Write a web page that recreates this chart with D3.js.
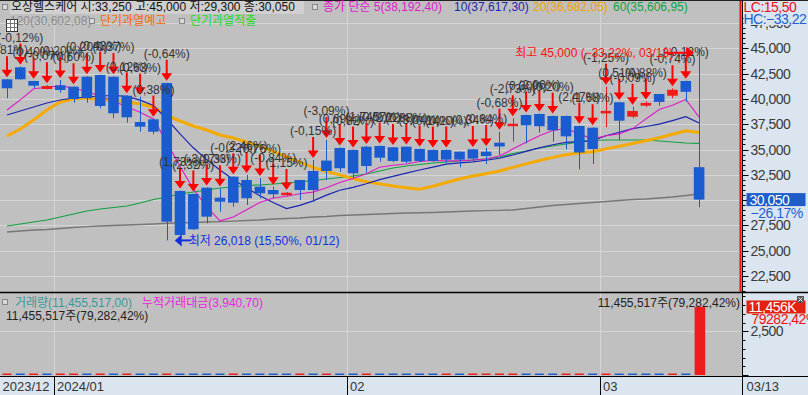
<!DOCTYPE html>
<html><head><meta charset="utf-8">
<script src="https://cdn.jsdelivr.net/npm/d3@7"></script>
<style>
html,body{margin:0;padding:0;background:#c0c0c0;overflow:hidden;}
svg{display:block;font-family:"Liberation Sans","Noto Sans CJK KR",sans-serif;}
.ax{letter-spacing:-0.5px;}
</style></head><body>
<svg id="c" width="808" height="395"></svg>
<script>
// ---------------- DATA ----------------
const dates = ["2023/12/22","2023/12/26","2023/12/27","2023/12/28",
"2024/01/02","2024/01/03","2024/01/04","2024/01/05","2024/01/08","2024/01/09","2024/01/10","2024/01/11","2024/01/12",
"2024/01/15","2024/01/16","2024/01/17","2024/01/18","2024/01/19","2024/01/22","2024/01/23","2024/01/24","2024/01/25","2024/01/26",
"2024/01/29","2024/01/30","2024/01/31",
"2024/02/01","2024/02/02","2024/02/05","2024/02/06","2024/02/07","2024/02/08","2024/02/13","2024/02/14","2024/02/15","2024/02/16",
"2024/02/19","2024/02/20","2024/02/21","2024/02/22","2024/02/23","2024/02/26","2024/02/27","2024/02/28","2024/02/29",
"2024/03/04","2024/03/05","2024/03/06","2024/03/07","2024/03/08","2024/03/11","2024/03/12","2024/03/13"];
const opens = [41937,43123,41769,40979,41344,41206,42194,42362,42194,40317,37718,37985,41572,30901,30605,31227,30239,32314,31988,31326,30997,30506,31988,32877,33907,35150,34950,35278,35347,35218,35278,35050,34950,34950,34785,35015,34785,35673,37400,38410,38509,38311,38311,37323,37155,38578,39665,38242,39329,40485,40317,41769,33250];
const highs = [41950,43200,41790,41350,41868,41250,42250,42400,42250,40350,40218,38050,41600,30950,30650,31250,31168,32350,32482,32186,31326,30800,32000,33965,35940,35200,35000,35350,35400,35250,35300,35100,35000,35000,34800,35050,35150,36760,38084,38450,38550,38350,38350,37350,37200,41206,39700,39230,39750,40500,41048,41800,45000];
const lows = [40060,41900,41048,40950,40613,39625,39625,39072,38084,37649,36760,36503,26018,26400,27050,27710,28856,29350,29518,30180,30180,30400,30009,29800,31988,32780,32190,32710,33795,33737,33638,33737,33800,33700,33243,33800,33560,34457,35772,35614,36661,35772,35021,33045,33569,37194,35940,38100,39200,39329,40060,39724,29300];
const closes = [41048,41937,41305,41275,40880,39991,40060,39299,38578,38183,37254,36760,27868,26554,27117,28362,29844,29745,30180,30674,30575,30703,30997,30997,32877,33150,32650,33370,34190,33865,33796,33865,33865,34000,34000,34100,34350,35300,37450,37400,37300,36900,36300,34700,35050,38805,37847,38805,39600,39700,40900,40700,30050];
const ma5 = [38904,39900,41000,41150,41289,41078,40702,40301,39762,39222,38675,38015,35729,33324,31111,29332,27949,28324,29050,29761,30204,30375,30626,30789,31230,31745,32134,32609,33247,33445,33574,33817,33916,33878,33905,33966,34063,34350,35040,35720,36360,36870,37070,36520,36050,36351,36540,37041,38021,38951,39370,39941,38192.40];
const ma10 = [38410,38806,39200,39596,39892,40090,40190,40287,40337,40256,39876,39359,38015,36543,35166,34004,32982,32027,31187,30436,29768,29162,29475,29919,30495,30974,31255,31617,32018,32337,32660,32976,33263,33563,33675,33770,33940,34133,34459,34813,35163,35467,35710,35780,35885,36356,36705,37056,37271,37501,37861,38241,37617.30];
const ma20 = [36335,37027,37916,38904,39694,39991,40090,39941,39892,39694,39497,39200,38361,37817,37323,36928,36434,36138,35742,35346,34822,34260,33745,33231,32831,32489,32118,31822,31603,31387,31214,31069,31369,31741,32085,32372,32597,32875,33239,33575,33911,34221,34486,34671,34780,35063,35323,35594,35865,36157,36512,36854,36682.05];
const ma60 = [27443,27641,27838,28036,28332,28629,28925,29123,29271,29419,29716,30061,30308,30605,30802,31000,31198,31296,31445,31494,31593,31692,31790,31939,32087,32235,32383,32581,32877,33174,33371,33519,33668,33766,33865,33964,34063,34260,34606,34853,35150,35347,35545,35742,35891,35940,35940,35940,35940,35841,35742,35644,35606.95];
const ma120 = [26850,26949,27048,27097,27196,27295,27374,27443,27493,27542,27592,27641,27710,27750,27790,27830,27870,27920,27980,28040,28135,28184,28234,28332,28382,28481,28530,28579,28629,28678,28728,28748,28777,28826,28876,28925,28955,28985,29024,29172,29321,29469,29567,29666,29765,29864,29963,30061,30111,30210,30308,30457,30602.08];
const volumes = [21000,18000,25000,15000,17000,23000,19000,28000,24000,31000,26000,22000,95000,61000,40000,35000,29000,33000,27000,22000,20000,18000,24000,21000,38000,30000,26000,28000,25000,20000,18000,17000,16000,19000,15000,16000,18000,22000,30000,24000,21000,19000,23000,27000,25000,29000,22000,18000,16000,15000,17000,14449,11455517];
const tradeAmount = 3940.70;
const signals = ["(1,81%)","(-0,12%)","(0,40%)","(-0,07%)","(0,20%)","(0,60%)","(0,20%)","(0,43%)","(0,37%)","(0,12%)","(0,63%)","(0,38%)","(-0,64%)",
"(1,73%)","(2,32%)","(-3,17%)","(0,33%)","(-0,32%)","(2,46%)","(0,76%)","(-0,84%)","(1,15%)",null,"(-0,15%)","(-3,09%)",
"(0,69%)","(0,82%)","(1,74%)","(0,57%)","(2,22%)","(0,88%)","(3,04%)","(0,14%)","(0,20%)",null,"(0,34%)","(0,84%)","(-0,68%)",
"(-2,73%)","(0,30%)","(2,06%)","(0,20%)",null,"(2,47%)","(1,68%)","(-1,25%)","(0,51%)","(-0,09%)","(0,88%)",null,"(-0,74%)","(-0,12%)",null];
const priceTicks = [22500,25000,27500,30000,32500,35000,37500,40000,42500,45000,47500];
const amountTicks = [2500];
const stockName = "오상헬스케어";

// ---------------- LAYOUT ----------------
const svg = d3.select("#c");
const plotR = 740, axisX = 742.5;
const volBase = 375, sepY = 292.5, dateY = 376.5;
const RED = "#ee1c1c", BLUE = "#1a5cd0";
const n = closes.length, last = n - 1;
const x = d3.scalePoint().domain(d3.range(n)).range([7, 699.1]);
const bodyW = 10.6;
const y = d3.scaleLinear().domain([22500, 45000]).range([276, 48.3]);
const volY = d3.scaleLinear().domain([0, volumes[last]]).range([volBase, 307]);
const amtY = d3.scaleLinear().domain([0, 2500]).range([volBase, 331.3]);
const f0 = d3.format(",");
const f2 = v => d3.format(",.2f")(v).replace(/\.(\d\d)$/, ",$1");
const p2 = v => d3.format(".2f")(v).replace(".", ",");

// backgrounds
svg.append("rect").attr("width", 808).attr("height", 395).attr("fill", "#c0c0c0");
svg.append("rect").attr("x", axisX).attr("y", 0).attr("width", 808 - axisX).attr("height", 395).attr("fill", "#dbe5ef");
svg.append("rect").attr("x", 0).attr("y", dateY).attr("width", 808).attr("height", 395 - dateY).attr("fill", "#dbe5ef");

// month boundaries
const monthStarts = d3.range(n).filter(i => i === 0 || dates[i].slice(0, 7) !== dates[i - 1].slice(0, 7));
const grid = svg.append("g").attr("stroke", "#d5d5d5").attr("stroke-width", 1);
priceTicks.forEach(t => grid.append("line").attr("x1", 0).attr("x2", plotR).attr("y1", Math.round(y(t)) + 0.5).attr("y2", Math.round(y(t)) + 0.5));
amountTicks.forEach(t => grid.append("line").attr("x1", 0).attr("x2", plotR).attr("y1", Math.round(amtY(t)) + 0.5).attr("y2", Math.round(amtY(t)) + 0.5));
monthStarts.slice(1).forEach(i => {
  const gx = Math.round(x(i) - bodyW / 2) - 0.5;
  grid.append("line").attr("x1", gx).attr("x2", gx).attr("y1", 0).attr("y2", dateY);
});

// moving averages
const mline = d3.line().x((d, i) => x(i)).y(d => y(d));
const mas = [[ma120, "#777777", 1.4], [ma60, "#12a040", 1.2], [ma20, "#f4aa00", 3], [ma10, "#1c24b0", 1.2], [ma5, "#e018c8", 1.1]];
mas.forEach(([arr, col, w]) => svg.append("path").datum(arr).attr("d", mline).attr("fill", "none").attr("stroke", col).attr("stroke-width", w));

// candles
const cg = svg.append("g");
d3.range(n).forEach(i => {
  const up = closes[i] >= opens[i];
  const col = up ? RED : BLUE;
  const cx = Math.round(x(i)) + 0.5;
  cg.append("line").attr("x1", cx).attr("x2", cx).attr("y1", y(highs[i])).attr("y2", y(lows[i])).attr("stroke", col).attr("stroke-width", 1);
  const yt = y(Math.max(opens[i], closes[i])), yb = y(Math.min(opens[i], closes[i]));
  const h = Math.max(2.5, yb - yt);
  cg.append("rect").attr("x", x(i) - bodyW / 2).attr("y", (yt + yb) / 2 - h / 2).attr("width", bodyW).attr("height", h).attr("fill", col);
});

// signal arrows + labels
const sg = svg.append("g");
d3.range(n).forEach(i => {
  if (!signals[i]) return;
  const cx = x(i), yh = y(highs[i]);
  sg.append("line").attr("x1", cx).attr("x2", cx).attr("y1", yh - 23).attr("y2", yh - 8).attr("stroke", "#ff0000").attr("stroke-width", 2);
  sg.append("path").attr("d", `M${cx - 5.5},${yh - 9.5}L${cx + 5.5},${yh - 9.5}L${cx},${yh - 2}Z`).attr("fill", "#ff0000");
});
d3.range(n).forEach(i => {
  if (!signals[i]) return;
  sg.append("text").attr("x", x(i)).attr("y", y(highs[i]) - 29).attr("dy", "0.35em").attr("text-anchor", "middle")
    .attr("font-size", 12).attr("fill", "#333").text(signals[i]);
});

// high / low markers
const hiI = d3.maxIndex(highs), loI = d3.minIndex(lows);
const mmdd = s => s.slice(5);
{
  const hx = x(hiI), hy = y(highs[hiI]) + 4.5;
  svg.append("line").attr("x1", hx - 35).attr("x2", hx - 12).attr("y1", hy).attr("y2", hy).attr("stroke", "#ff0000").attr("stroke-width", 2);
  svg.append("path").attr("d", `M${hx - 13},${hy - 6}L${hx - 13},${hy + 6}L${hx - 5},${hy}Z`).attr("fill", "#ff0000");
  svg.append("text").attr("x", hx - 26).attr("y", hy).attr("dy", "0.35em").attr("text-anchor", "end").attr("font-size", 12).attr("fill", "#ff1010")
    .text(`최고 ${f0(highs[hiI])} (${p2((closes[last] / highs[hiI] - 1) * 100)}%, ${mmdd(dates[hiI])})`);
  const lx = x(loI), ly = y(lows[loI]);
  svg.append("line").attr("x1", lx + 14).attr("x2", lx + 24).attr("y1", ly).attr("y2", ly).attr("stroke", "#1030e0").attr("stroke-width", 2);
  svg.append("path").attr("d", `M${lx + 15},${ly - 6}L${lx + 15},${ly + 6}L${lx + 8},${ly}Z`).attr("fill", "#1030e0");
  svg.append("text").attr("x", lx + 22).attr("y", ly).attr("dy", "0.35em").attr("font-size", 12).attr("fill", "#1030e0")
    .text(`최저 ${f0(lows[loI])} (${p2((closes[last] / lows[loI] - 1) * 100)}%, ${mmdd(dates[loI])})`);
}

// volume bars
const vg = svg.append("g");
d3.range(n).forEach(i => {
  const upv = i === 0 ? true : volumes[i] >= volumes[i - 1];
  const top = Math.min(volY(volumes[i]), volBase - 1.5);
  vg.append("rect").attr("x", x(i) - 4.5).attr("y", top).attr("width", i === last ? bodyW : 9).attr("height", volBase - top)
    .attr("fill", upv ? RED : BLUE);
});

// panel lines
svg.append("line").attr("x1", plotR + 0.5).attr("x2", plotR + 0.5).attr("y1", 0).attr("y2", sepY).attr("stroke", "#ee1111").attr("stroke-width", 2);
svg.append("line").attr("x1", axisX).attr("x2", axisX).attr("y1", 0).attr("y2", 395).attr("stroke", "#000").attr("stroke-width", 1);
svg.append("line").attr("x1", 0).attr("x2", 808).attr("y1", 0.5).attr("y2", 0.5).attr("stroke", "#222");
svg.append("line").attr("x1", 0).attr("x2", 808).attr("y1", sepY).attr("y2", sepY).attr("stroke", "#000").attr("stroke-width", 1.5);
svg.append("line").attr("x1", 0).attr("x2", 808).attr("y1", dateY).attr("y2", dateY).attr("stroke", "#000").attr("stroke-width", 1);

// price axis
const ax = svg.append("g").attr("class", "ax");
d3.range(21000, 48001, 500).forEach(v => {
  const yy = Math.round(y(v)) + 0.5;
  if (yy < 2 || yy > sepY - 1) return;
  const major = v % 2500 === 0;
  ax.append("line").attr("x1", axisX).attr("x2", axisX + (major ? 6 : 3)).attr("y1", yy).attr("y2", yy).attr("stroke", "#000");
});
priceTicks.forEach(t => ax.append("text").attr("x", axisX + 8).attr("y", y(t)).attr("dy", "0.36em").attr("font-size", 14).attr("fill", "#3a3a3a").text(f0(t)));
// LC / HC
ax.append("rect").attr("x", axisX + 1).attr("y", 1).attr("width", 65).attr("height", 24).attr("fill", "#dbe5ef");
ax.append("text").attr("x", axisX + 1).attr("y", 6.5).attr("dy", "0.36em").attr("font-size", 14).attr("fill", "#ee1111").text(`LC:${p2((closes[last] / lows[loI] - 1) * 100)}`);
ax.append("text").attr("x", axisX + 1).attr("y", 19).attr("dy", "0.36em").attr("font-size", 14).attr("fill", "#2060d0").text(`HC:${p2((closes[last] / highs[hiI] - 1) * 100)}`);
// current price box
const cy = y(closes[last]);
ax.append("rect").attr("x", axisX + 4).attr("y", cy - 6.5).attr("width", 59).attr("height", 13).attr("fill", "#1e5cc8");
ax.append("text").attr("x", axisX + 7).attr("y", cy).attr("dy", "0.36em").attr("font-size", 14).attr("fill", "#fff").text(f0(closes[last]));
ax.append("text").attr("x", axisX + 8).attr("y", cy + 13).attr("dy", "0.36em").attr("font-size", 14).attr("fill", "#2060d0").text(`${p2((closes[last] / closes[last - 1] - 1) * 100)}%`);

// volume axis
d3.range(0, 5001, 500).forEach(v => {
  const yy = Math.round(amtY(v)) + 0.5;
  if (yy < sepY + 2) return;
  ax.append("line").attr("x1", axisX).attr("x2", axisX + (v % 2500 === 0 ? 6 : 3)).attr("y1", yy).attr("y2", yy).attr("stroke", "#000");
});
amountTicks.forEach(t => ax.append("text").attr("x", axisX + 8).attr("y", amtY(t)).attr("dy", "0.36em").attr("font-size", 14).attr("fill", "#3a3a3a").text(f0(t)));
const vy = volY(volumes[last]);
ax.append("rect").attr("x", axisX + 4).attr("y", vy - 6.5).attr("width", 59).attr("height", 13).attr("fill", "#e4200f");
ax.append("text").attr("x", axisX + 6).attr("y", vy).attr("dy", "0.36em").attr("font-size", 14).attr("fill", "#fff").text(`${f0(Math.round(volumes[last] / 1000))}K`);
ax.append("text").attr("x", axisX + 9).attr("y", vy + 12).attr("dy", "0.36em").attr("font-size", 14).attr("fill", "#ee1111").text(`${(volumes[last] / volumes[last - 1] * 100).toFixed(2).replace(".", ",")}%`);
ax.append("rect").attr("x", 797).attr("y", 296).attr("width", 7).attr("height", 7).attr("fill", "#555");
ax.append("path").attr("d", "M798.5,297.5L802.5,301.5M802.5,297.5L798.5,301.5").attr("stroke", "#fff").attr("stroke-width", 1);

// date axis
const dg = svg.append("g");
monthStarts.forEach((i, k) => {
  const gx = k === 0 ? 0 : Math.round(x(i) - bodyW / 2) - 0.5;
  if (k > 0) dg.append("line").attr("x1", gx).attr("x2", gx).attr("y1", dateY).attr("y2", 395).attr("stroke", "#000");
  const yr = dates[i].slice(0, 4), mo = dates[i].slice(5, 7);
  const lab = (k === 0 || yr !== dates[monthStarts[k - 1]].slice(0, 4)) ? `${yr}/${mo}` : mo;
  dg.append("text").attr("x", gx + 2.5).attr("y", 386).attr("dy", "0.36em").attr("font-size", 13).attr("fill", "#333").text(lab);
});
dg.append("text").attr("x", axisX + 4).attr("y", 386).attr("dy", "0.36em").attr("font-size", 13).attr("fill", "#333").text(mmdd(dates[last]));

// header texts
const icon = (g, ix, iy) => g.append("rect").attr("x", ix + 0.5).attr("y", iy + 0.5).attr("width", 5).attr("height", 5).attr("fill", "#d8d8d8").attr("stroke", "#888");
const hd = svg.append("g").attr("font-size", 12);
icon(hd, 2, 4);
hd.append("rect").attr("x", 10).attr("y", 1).attr("width", 294).attr("height", 13).attr("fill", "#d0d0d0");
hd.append("text").attr("x", 11).attr("y", 7).attr("dy", "0.36em").attr("fill", "#111")
  .text(`${stockName} 시:${f0(opens[last])} 고:${f0(highs[last])} 저:${f0(lows[last])} 종:${f0(closes[last])}`);
icon(hd, 312, 4);
hd.append("text").attr("x", 323).attr("y", 7).attr("dy", "0.36em").attr("fill", "#e018c8").text(`종가 단순 5(${f2(ma5[last])})`);
hd.append("text").attr("x", 454).attr("y", 7).attr("dy", "0.36em").attr("fill", "#1c24b0").text(`10(${f2(ma10[last])})`);
hd.append("text").attr("x", 533).attr("y", 7).attr("dy", "0.36em").attr("fill", "#f0a000").text(`20(${f2(ma20[last])})`);
hd.append("text").attr("x", 613).attr("y", 7).attr("dy", "0.36em").attr("fill", "#10a040").text(`60(${f2(ma60[last])})`);
hd.append("text").attr("x", 10).attr("y", 20.5).attr("dy", "0.36em").attr("fill", "#8c8c8c").text(`120(${f2(ma120[last])})`);
icon(hd, 89, 18);
hd.append("text").attr("x", 100).attr("y", 20.5).attr("dy", "0.36em").attr("fill", "#ff6a00").text("단기과열예고");
icon(hd, 179, 18);
hd.append("text").attr("x", 190).attr("y", 20.5).attr("dy", "0.36em").attr("fill", "#22dd22").text("단기과열적출");
// table icon
hd.append("rect").attr("x", 6.5).attr("y", 19.5).attr("width", 11).attr("height", 12).attr("fill", "#fff").attr("stroke", "#333");
hd.append("path").attr("d", "M6.5,23.5H17.5M6.5,27.5H17.5M10.5,19.5V31.5M14.5,19.5V31.5").attr("stroke", "#777").attr("stroke-width", 1);

// volume panel texts
const vt = svg.append("g").attr("font-size", 12);
icon(vt, 2, 299);
vt.append("text").attr("x", 15).attr("y", 302.5).attr("dy", "0.36em").attr("fill", "#3a9a9a").text(`거래량(${f2(volumes[last])})`);
vt.append("text").attr("x", 142).attr("y", 302.5).attr("dy", "0.36em").attr("fill", "#f020e8").text(`누적거래대금(${f2(tradeAmount)})`);
const vtxt = `${f0(volumes[last])}주(${f2(volumes[last] / volumes[last - 1] * 100)}%)`;
vt.append("text").attr("x", 6).attr("y", 315.5).attr("dy", "0.36em").attr("fill", "#222").text(vtxt);
vt.append("text").attr("x", plotR).attr("y", 302.5).attr("dy", "0.36em").attr("text-anchor", "end").attr("fill", "#222").text(vtxt);
</script>
</body></html>
